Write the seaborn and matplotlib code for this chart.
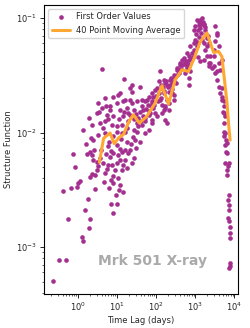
import matplotlib
matplotlib.use("Agg")
import matplotlib.pyplot as plt
import numpy as np
import pandas as pd
import seaborn as sns

# first order structure function values, grouped by region
lag_a = [0.23, 0.32, 0.48, 0.56, 1.24, 1.34, 1.95, 2.0, 1.51, 8.0,
         0.40, 0.65, 0.93, 1.02, 1.13, 0.82, 0.73, 1.37, 1.6, 1.73,
         2.03, 1.77, 2.29, 3.0, 2.78]
sf_a = [5.1e-4, 7.7e-4, 7.7e-4, 1.77e-3, 1.22e-3, 1.12e-3, 1.47e-3, 1.75e-3, 2.1e-3, 2.0e-3,
        3.1e-3, 3.27e-3, 3.33e-3, 3.6e-3, 3.76e-3, 4.95e-3, 6.5e-3, 1.06e-2, 7.96e-3, 6.5e-3,
        4.07e-3, 2.65e-3, 4.34e-3, 5.58e-3, 3.22e-3]

lag_b = [1.91, 3.45, 5.13, 2.12, 2.57, 2.33, 3.13, 4.64, 6.9, 6.24,
         9.26, 11.2, 6.9, 10.2, 13.7]
sf_b = [1.34e-2, 1.52e-2, 1.69e-2, 8.9e-3, 7.07e-3, 6.38e-3, 4.72e-3, 3.73e-3, 3.87e-3, 3.27e-3,
        2.86e-3, 3.16e-3, 2.37e-3, 2.37e-3, 3.05e-3]

lag_c = [20.7, 23.8, 11.5, 8.04, 4.92, 9.8, 14.5, 23.8, 32, 3.32,
         4.05, 6.6, 11.9, 17.7, 26.2, 3.0, 5.44, 8.04, 14.5, 21.5,
         2.25, 3.66, 4.92, 7.3, 13.2, 19.5, 32, 2.47, 3.32, 4.92,
         9.8, 16, 26.2, 2.03, 5.98, 9.8, 17.7, 28.9, 2.47, 3.66,
         6.6, 10.8, 19.5, 26.2, 3.32, 5.98, 9.8, 2.73, 4.92, 8.9]
sf_c = [2.44e-2, 2.28e-2, 2.21e-2, 2.06e-2, 2.0e-2, 1.81e-2, 1.87e-2, 1.81e-2, 1.87e-2, 1.81e-2,
        1.63e-2, 1.58e-2, 1.58e-2, 1.63e-2, 1.58e-2, 1.48e-2, 1.43e-2, 1.38e-2, 1.38e-2, 1.43e-2,
        1.17e-2, 1.21e-2, 1.25e-2, 1.17e-2, 1.17e-2, 1.25e-2, 1.21e-2, 8.6e-3, 9.55e-3, 9.9e-3,
        1.02e-2, 1.02e-2, 1.05e-2, 6.8e-3, 7.55e-3, 7.8e-3, 8.3e-3, 8.6e-3, 5.78e-3, 5.97e-3,
        6.17e-3, 6.38e-3, 6.6e-3, 5.97e-3, 5.05e-3, 5.22e-3, 5.4e-3, 4.28e-3, 4.42e-3, 4.72e-3]

lag_d = [8.04, 11.9, 10.8, 13.2, 7.3, 14.5, 16, 23.8, 8.04, 13.2,
         21.5, 38.8, 52, 63.5, 77.6, 104, 140, 170, 207, 278,
         253, 43, 52, 70, 85, 47, 58, 85, 126, 154,
         21.5, 19.5, 9.8, 13.2, 32]
sf_d = [3.61e-3, 3.49e-3, 4.0e-3, 4.72e-3, 5.22e-3, 5.22e-3, 5.78e-3, 5.4e-3, 6.6e-3, 6.8e-3,
        7.07e-3, 8.3e-3, 9.9e-3, 1.05e-2, 1.21e-2, 1.38e-2, 1.48e-2, 1.63e-2, 1.81e-2, 1.93e-2,
        2.21e-2, 1.17e-2, 1.34e-2, 1.48e-2, 1.63e-2, 1.58e-2, 1.93e-2, 2.06e-2, 1.93e-2, 2.21e-2,
        1.93e-2, 1.48e-2, 1.13e-2, 9.9e-3, 1.02e-2]

lag_e = [126, 115, 154, 94, 140, 188, 207, 253, 306, 340,
         411, 455, 500, 612, 552, 373, 278, 188, 170, 207,
         140, 63.5, 52, 43, 38.8, 77.6, 94, 63.5, 52, 35,
         552, 673, 154, 170, 188, 77.6]
sf_e = [3.41e-2, 2.79e-2, 2.89e-2, 2.36e-2, 2.44e-2, 2.61e-2, 2.28e-2, 2.7e-2, 3.08e-2, 3.65e-2,
        4.03e-2, 4.31e-2, 4.46e-2, 3.77e-2, 3.3e-2, 3.3e-2, 2.13e-2, 1.93e-2, 1.69e-2, 1.58e-2,
        1.75e-2, 2.06e-2, 1.87e-2, 1.69e-2, 1.52e-2, 1.81e-2, 1.48e-2, 1.43e-2, 1.25e-2, 1.13e-2,
        4.03e-2, 4.61e-2, 1.58e-2, 1.29e-2, 1.21e-2, 1.29e-2]

lag_f = [1107, 1486, 1633, 1336, 1795, 995, 1216, 904, 1107, 823,
         673, 612, 741, 673, 673, 3240, 3600, 3240, 3960, 2940,
         2190, 1795, 1995, 2410, 2680, 3240, 3600, 3960, 4350, 4840,
         5320, 5840, 3960, 4350, 2940, 4840, 1486, 1633, 2190, 1336,
         1700, 1216, 904, 995, 741, 612, 411, 340, 278, 228,
         170, 104, 77.6, 43, 3600, 2410, 2190, 2940, 3600, 4840,
         4840, 1995, 1633, 1995, 1300, 1200]
sf_f = [9.63e-2, 9.98e-2, 8.73e-2, 8.17e-2, 7.89e-2, 8.43e-2, 6.89e-2, 6.04e-2, 5.64e-2, 4.93e-2,
        4.31e-2, 3.65e-2, 3.41e-2, 2.98e-2, 2.61e-2, 8.43e-2, 7.13e-2, 6.24e-2, 5.64e-2, 5.28e-2,
        6.04e-2, 5.28e-2, 4.61e-2, 4.03e-2, 3.65e-2, 3.3e-2, 2.89e-2, 2.52e-2, 2.21e-2, 1.93e-2,
        1.69e-2, 1.38e-2, 4.03e-2, 3.53e-2, 4.61e-2, 4.31e-2, 6.46e-2, 4.31e-2, 3.77e-2, 9.57e-2,
        8.85e-2, 8.66e-2, 7.89e-2, 6.42e-2, 5.64e-2, 4.93e-2, 3.9e-2, 3.53e-2, 3.19e-2, 2.89e-2,
        2.7e-2, 2.44e-2, 2.21e-2, 1.93e-2, 7.38e-2, 4.61e-2, 4.03e-2, 3.77e-2, 3.41e-2, 2.44e-2,
        2.06e-2, 5.64e-2, 6.04e-2, 6.67e-2, 4.2e-2, 4.6e-2]

lag_g = [5320, 5320, 5320, 5840, 5320, 6240, 5840, 6500, 5840, 6500,
         6500, 7140, 6730, 7140, 7140, 6730, 7140, 7570, 7570, 7570,
         7570, 7840, 7440, 5130, 5540, 6500, 6240, 7140, 6730]
sf_g = [1.87e-2, 1.48e-2, 1.21e-2, 9.9e-3, 9.23e-3, 8.6e-3, 7.8e-3, 6.6e-3, 5.4e-3, 4.72e-3,
        4.28e-3, 2.86e-3, 2.58e-3, 2.34e-3, 2.1e-3, 1.79e-3, 1.7e-3, 1.51e-3, 1.32e-3, 1.2e-3,
        7.3e-4, 6.9e-4, 6.6e-4, 1.52e-2, 1.02e-2, 8.1e-3, 6.8e-3, 5.4e-3, 5.05e-3]

lag_h = [4.05, 14.8, 10.8, 6.6, 16, 23.8, 38.8]
sf_h = [3.58e-2, 2.94e-2, 2.13e-2, 1.71e-2, 1.93e-2, 2.61e-2, 2.52e-2]

# extra points filling the dense middle band
lag_i = [45, 55, 60, 66, 72, 80, 88, 100, 110, 120,
         130, 135, 150, 160, 180, 200, 220, 240, 260, 290,
         320, 350, 390, 430, 470, 520, 580, 640, 700, 780,
         850, 950, 1050, 1150, 1250, 1400, 1550, 1750, 1900, 2100,
         1400, 1100]
sf_i = [1.4e-2, 1.6e-2, 1.75e-2, 1.55e-2, 1.7e-2, 1.9e-2, 1.75e-2, 2.1e-2, 1.9e-2, 2.2e-2,
        2.0e-2, 2.6e-2, 2.5e-2, 2.3e-2, 2.8e-2, 2.5e-2, 2.6e-2, 3.0e-2, 2.4e-2, 2.8e-2,
        2.7e-2, 3.2e-2, 3.5e-2, 3.6e-2, 3.9e-2, 4.0e-2, 4.2e-2, 4.0e-2, 3.8e-2, 4.4e-2,
        4.6e-2, 5.2e-2, 7.3e-2, 7.9e-2, 9.2e-2, 8.9e-2, 9.3e-2, 8.3e-2, 7.3e-2, 6.9e-2,
        7.4e-2, 6.2e-2]

lag_j = [4.3, 5.7, 7.8, 12.5, 18, 25, 6.3, 11, 15, 27,
         30, 35, 40, 3.9, 5.2, 7.0, 12.0, 15.5, 22, 30,
         4.3, 5.5, 7.7, 12, 18]
sf_j = [1.1e-2, 1.3e-2, 9.3e-3, 8.8e-3, 1.1e-2, 9.2e-3, 8.3e-3, 1.3e-2, 1.5e-2, 1.3e-2,
        1.45e-2, 1.35e-2, 1.25e-2, 7.0e-3, 6.5e-3, 6.9e-3, 7.2e-3, 7.0e-3, 8.0e-3, 7.3e-3,
        5.4e-3, 4.8e-3, 4.2e-3, 5.8e-3, 4.9e-3]

# 40 point moving average line
ma_lag = [3.5, 4.5, 6.6, 8.4, 11, 14.5, 20, 26, 37, 57, 94, 140, 207, 305,
          455, 670, 900, 1340, 1980, 2950, 3960, 4800, 6500, 7100, 7800]
ma_sf = [5.5e-3, 8.9e-3, 9.9e-3, 8.0e-3, 9.0e-3, 9.6e-3, 1.25e-2, 1.43e-2, 1.21e-2, 1.38e-2,
         1.81e-2, 2.56e-2, 1.78e-2, 2.88e-2, 3.53e-2, 3.41e-2, 4.3e-2, 6.2e-2, 7.4e-2, 5.0e-2,
         5.1e-2, 4.6e-2, 1.8e-2, 1.2e-2, 8.6e-3]

lags = lag_a + lag_b + lag_c + lag_d + lag_e + lag_f + lag_g + lag_h + lag_i + lag_j
sfs = sf_a + sf_b + sf_c + sf_d + sf_e + sf_f + sf_g + sf_h + sf_i + sf_j
points = pd.DataFrame({"lag": lags, "sf": sfs})
ma = pd.DataFrame({"lag": ma_lag, "sf": ma_sf})

sns.set_style("ticks")
plt.rcParams["font.family"] = ["DejaVu Sans"]

fig = plt.figure(figsize=(2.5, 3.28), dpi=100)
ax = fig.add_axes([0.176, 0.104, 0.776, 0.881])

sns.scatterplot(data=points, x="lag", y="sf", s=11, color="#a52f8f", linewidth=0,
                label="First Order Values", ax=ax)
sns.lineplot(data=ma, x="lag", y="sf", color="#ffa733", linewidth=2.2, sort=False,
             label="40 Point Moving Average", ax=ax)

ax.set_xscale("log")
ax.set_yscale("log")
ax.set_xlim(0.134, 12400)
ax.set_ylim(3.9e-4, 0.130)
ax.set_xlabel("Time Lag (days)", fontsize=6, labelpad=2)
ax.set_ylabel("Structure Function", fontsize=6, labelpad=2)
ax.tick_params(which="major", labelsize=6, length=3, width=0.7, pad=2)
ax.tick_params(which="minor", length=1.6, width=0.5)
for s in ax.spines.values():
    s.set_linewidth(0.8)
    s.set_color("black")

ax.text(0.56, 0.115, "Mrk 501 X-ray", transform=ax.transAxes, ha="center", va="center",
        fontsize=10, fontweight="bold", color="#aaaaaa")
ax.legend(loc="upper left", fontsize=6, handlelength=2.2, borderaxespad=0.5)

fig.savefig("out.png", dpi=100)
